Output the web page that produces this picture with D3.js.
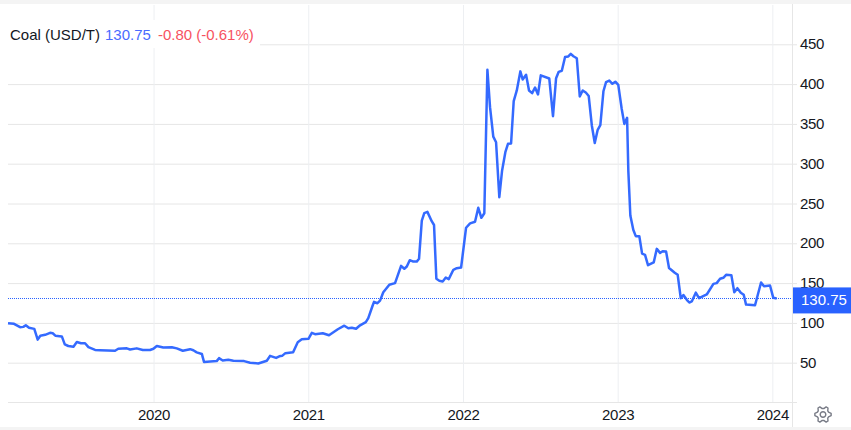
<!DOCTYPE html>
<html>
<head>
<meta charset="utf-8">
<script src="https://cdn.jsdelivr.net/npm/d3@7"></script>
<style>
  html, body { margin: 0; padding: 0; background: #fff; }
  text { font-family: "Liberation Sans", Arial, sans-serif; font-size: 15px; }
  .tick text { letter-spacing: -0.3px; }
</style>
</head>
<body>
<div id="chart"></div>
<script>
// Dates as fractional years
var dates = [
  2019.059, 2019.098, 2019.137, 2019.158, 2019.174, 2019.195, 2019.229, 2019.251, 2019.268, 2019.299,
  2019.331, 2019.348, 2019.365, 2019.407, 2019.426, 2019.449, 2019.482, 2019.504, 2019.531, 2019.557,
  2019.579, 2019.622, 2019.654, 2019.751, 2019.772, 2019.827, 2019.848, 2019.891, 2019.930, 2019.977,
  2019.999, 2020.021, 2020.063, 2020.118, 2020.150, 2020.189, 2020.236, 2020.257, 2020.279, 2020.312,
  2020.326, 2020.408, 2020.423, 2020.447, 2020.483, 2020.516, 2020.585, 2020.624, 2020.677, 2020.732,
  2020.753, 2020.792, 2020.813, 2020.831, 2020.852, 2020.902, 2020.932, 2020.958, 2021.001, 2021.023,
  2021.044, 2021.094, 2021.134, 2021.191, 2021.233, 2021.259, 2021.281, 2021.309, 2021.335, 2021.372,
  2021.388, 2021.414, 2021.425, 2021.447, 2021.464, 2021.485, 2021.524, 2021.561, 2021.600, 2021.621,
  2021.637, 2021.656, 2021.679, 2021.701, 2021.716, 2021.734, 2021.750, 2021.770, 2021.798, 2021.813,
  2021.828, 2021.847, 2021.869, 2021.889, 2021.908, 2021.938, 2021.960, 2021.988, 2022.020, 2022.046,
  2022.078, 2022.099, 2022.119, 2022.138, 2022.158, 2022.175, 2022.196, 2022.214, 2022.235, 2022.253,
  2022.274, 2022.291, 2022.311, 2022.328, 2022.348, 2022.371, 2022.386, 2022.408, 2022.427, 2022.447,
  2022.466, 2022.485, 2022.503, 2022.558, 2022.582, 2022.602, 2022.619, 2022.639, 2022.660, 2022.681,
  2022.697, 2022.714, 2022.736, 2022.755, 2022.774, 2022.794, 2022.813, 2022.833, 2022.852, 2022.871,
  2022.888, 2022.908, 2022.925, 2022.946, 2022.966, 2022.985, 2023.004, 2023.026, 2023.043, 2023.061,
  2023.069, 2023.082, 2023.101, 2023.117, 2023.140, 2023.158, 2023.177, 2023.196, 2023.233, 2023.253,
  2023.274, 2023.291, 2023.313, 2023.332, 2023.369, 2023.388, 2023.408, 2023.425, 2023.447, 2023.463,
  2023.479, 2023.505, 2023.526, 2023.576, 2023.619, 2023.640, 2023.662, 2023.683, 2023.701, 2023.735,
  2023.754, 2023.774, 2023.796, 2023.815, 2023.830, 2023.888, 2023.927, 2023.946, 2023.985, 2024.006,
  2024.028
];

var prices = [
  99.6, 98.8, 94.6, 95, 97, 93.8, 92.5, 79, 83.8, 85,
  87.5, 87, 84, 83, 73, 71, 70, 76, 74.5, 74.5,
  69.5, 66, 65.7, 65, 67.5, 68, 66.6, 68, 66, 66,
  67.5, 71, 69, 69.5, 68, 65, 67, 65.7, 63, 61,
  51, 52, 55.7, 52.8, 53.6, 52.4, 52, 50, 49, 52.4,
  58.6, 56, 58, 58.6, 62, 63, 75.8, 79.5, 80, 87.5,
  85.8, 87, 84.5, 92, 96.5, 93.3, 94, 92.6, 97, 101,
  106, 120.6, 126.5, 124.7, 128, 138.5, 148, 150, 171.7, 168,
  170.9, 178.8, 177, 177, 180.5, 228.6, 238, 239.5, 227.8, 223,
  155.4, 153, 152, 157, 155, 166.7, 168.7, 169.6, 219.5, 225,
  227, 244.6, 232, 237.8, 418, 371, 334, 327, 258, 291.5,
  314.5, 325, 325.4, 378.5, 392, 416, 405.8, 411.7, 392, 388.6,
  395.7, 387, 411, 407, 359.7, 407.4, 415.4, 416.7, 434, 434.7,
  438, 435, 432.5, 384.4, 392, 389.4, 385, 348, 326, 342.6,
  348.4, 391, 402.4, 404.5, 400.4, 403, 399, 369, 350, 357.7,
  291, 235, 217, 209, 209, 187, 185.5, 172.5, 176, 193,
  188, 190, 189.7, 169, 163, 160.4, 131, 135, 129, 125.6,
  127, 138, 131, 135.7, 149, 150, 155.4, 156.7, 160.4, 160,
  138.6, 143.6, 137.8, 135.3, 123, 122.2, 150.8, 146, 147, 131.5,
  130.75
];

var yearTicks = [2020, 2021, 2022, 2023, 2024];
var priceTicks = [50, 100, 150, 200, 250, 300, 350, 400, 450];
var seriesName = "Coal (USD/T)";
var lastPrice = 130.75;
var lastChange = "-0.80 (-0.61%)";

var svgWidth = 851;
var svgHeight = 430;
var plot = { left: 8, right: 792, top: 5, bottom: 402.5 };

var blue = "#2962ff";
var gridColor = "#e6e6e6";
var textColor = "#131722";

var svg = d3.select("#chart")
    .append("svg")
    .attr("width", svgWidth)
    .attr("height", svgHeight)
    .style("display", "block");

// Scales
var x = d3.scaleLinear()
    .domain([2019.059, 2024.127])
    .range([plot.left, plot.right]);

var y = d3.scaleLinear()
    .domain([0, 500])
    .range([plot.bottom, 4.5]);

// Page strips at top and bottom
svg.append("rect").attr("x", 0).attr("y", 0).attr("width", svgWidth).attr("height", 4).attr("fill", "#f4f4f4");
svg.append("rect").attr("x", 0).attr("y", 427).attr("width", svgWidth).attr("height", 3).attr("fill", "#f4f4f4");

// Horizontal grid lines and price labels
var yAxis = svg.append("g")
    .attr("transform", `translate(${plot.right}, 0)`)
    .call(d3.axisRight(y).tickValues(priceTicks).tickSize(4).tickPadding(4).tickFormat(d3.format("d")));
yAxis.select(".domain").remove();
yAxis.selectAll("line")
    .attr("x1", plot.left - plot.right)
    .attr("x2", 5)
    .attr("stroke", gridColor);
yAxis.selectAll("text")
    .attr("x", 8)
    .attr("dy", "0.3em")
    .attr("fill", textColor);

// Vertical grid lines and year labels
var xAxis = svg.append("g")
    .attr("transform", `translate(0, ${plot.bottom})`)
    .call(d3.axisBottom(x).tickValues(yearTicks).tickSize(0).tickPadding(0).tickFormat(d3.format("d")));
xAxis.select(".domain").remove();
xAxis.selectAll("line")
    .attr("y1", plot.top - plot.bottom)
    .attr("y2", 0)
    .attr("stroke", "#edeff2");
xAxis.selectAll("text")
    .attr("y", 7)
    .attr("dy", "0.71em")
    .attr("fill", textColor);

// Baseline and right hand axis line
svg.append("line")
    .attr("x1", plot.left).attr("x2", plot.right + 5)
    .attr("y1", plot.bottom).attr("y2", plot.bottom)
    .attr("stroke", gridColor);
svg.append("line")
    .attr("x1", plot.right + 0.5).attr("x2", plot.right + 0.5)
    .attr("y1", 4).attr("y2", 427)
    .attr("stroke", gridColor);

// Dotted line at the last price
svg.append("line")
    .attr("x1", plot.left).attr("x2", plot.right)
    .attr("y1", Math.round(y(lastPrice)) + 0.5).attr("y2", Math.round(y(lastPrice)) + 0.5)
    .attr("stroke", blue)
    .attr("stroke-dasharray", "1 1");

// Price line
var priceLine = d3.line()
    .x(function(d, i) { return x(dates[i]); })
    .y(function(d) { return y(d); });

svg.append("path")
    .attr("d", priceLine(prices))
    .attr("fill", "none")
    .attr("stroke", blue)
    .attr("stroke-opacity", 0.95)
    .attr("stroke-width", 2.5)
    .attr("stroke-linejoin", "round");

// Last price tag
svg.append("rect")
    .attr("x", plot.right + 1).attr("y", y(lastPrice) - 11)
    .attr("width", svgWidth - plot.right - 1).attr("height", 26)
    .attr("fill", blue);
svg.append("text")
    .attr("x", 801).attr("y", y(lastPrice) + 7)
    .attr("fill", "#fff")
    .text(lastPrice);

// Legend, sits on a white box over the grid
svg.append("rect")
    .attr("x", 8).attr("y", 20).attr("width", 252).attr("height", 28)
    .attr("fill", "#fff");
var legend = svg.append("text").attr("x", 10).attr("y", 40);
legend.append("tspan").attr("fill", textColor).text(seriesName);
legend.append("tspan").attr("fill", "#4a6bff").attr("dx", 5).text(lastPrice);
legend.append("tspan").attr("fill", "#f7525f").attr("dx", 7).text(lastChange);

// Settings gear
var teeth = 6;
var gearPoints = d3.range(teeth * 4).map(function(i) {
    var a = (i - 0.5) / (teeth * 4) * 2 * Math.PI;
    var r = (i % 4 < 2) ? 8.2 : 6;
    return [r * Math.cos(a), r * Math.sin(a)];
});
var gear = svg.append("g").attr("transform", "translate(823, 414.5)");
gear.append("path")
    .attr("d", d3.line().curve(d3.curveLinearClosed)(gearPoints))
    .attr("fill", "none")
    .attr("stroke", "#787b86")
    .attr("stroke-width", 1.4)
    .attr("stroke-linejoin", "round");
gear.append("circle")
    .attr("r", 2.8)
    .attr("fill", "none")
    .attr("stroke", "#787b86")
    .attr("stroke-width", 1.4);
</script>
</body>
</html>
